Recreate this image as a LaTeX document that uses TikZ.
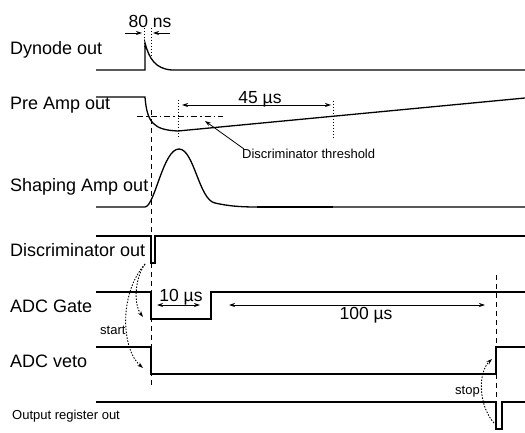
\documentclass[tikz,border=0pt]{standalone}
\usepackage{fontspec}
\setmainfont{Liberation Sans}
\usetikzlibrary{arrows.meta}
\begin{document}
\begin{tikzpicture}[x=1pt,y=-1pt,
  sig/.style={line width=1.3pt, line join=miter},
  biglabel/.style={anchor=base west, inner sep=0pt, font=\fontsize{18}{21}\selectfont},
  smalllabel/.style={anchor=base west, inner sep=0pt, font=\fontsize{13}{15}\selectfont},
  meas/.style={anchor=base, inner sep=0pt, font=\fontsize{17.5}{20}\selectfont},
  vdash/.style={line width=0.9pt, dash pattern=on 5pt off 4pt},
  vdot/.style={line width=0.9pt, dash pattern=on 1.5pt off 1.5pt},
  tip/.style={-{Stealth[length=6pt,width=4pt]}},
  dtip/.style={{Stealth[length=6pt,width=4pt]}-{Stealth[length=6pt,width=4pt]}},
  thin/.style={line width=0.8pt}
]
\useasboundingbox (0,0) rectangle (525,433);

% labels
\node[biglabel] (ldyn) at (10,55) {Dynode out};
\node[biglabel] (lpre) at (10,110) {Pre Amp out};
\node[biglabel] (lshp) at (10,191) {Shaping Amp out};
\node[biglabel] (ldis) at (10,256) {Discriminator out};
\node[biglabel] (lgate) at (10,312) {ADC Gate};
\node[biglabel] (lveto) at (10,367) {ADC veto};
\node[smalllabel] (lout) at (12,419) {Output register out};

% signals
\draw[sig] (96,70) -- (145,70) -- (145,43) .. controls (149,58) and (155,69) .. (172,70) -- (525,70);
\draw[sig] (96,97) -- (145,97) .. controls (147,122) and (153,130) .. (178,131) -- (525,98);
\draw[sig] (96,207) -- (145,207) .. controls (155,206) and (163,149) .. (179,149)
  .. controls (194,149) and (199,200) .. (215,203) .. controls (228,206) and (240,207) .. (257,207) -- (525,207);
\draw[line width=1.8pt] (257,207) -- (333,207);
\draw[sig] (96,236) -- (151,236) -- (151,263) -- (155,263) -- (155,236) -- (525,236);
\draw[sig] (96,292) -- (151,292) -- (151,319) -- (211,319) -- (211,292) -- (525,292);
\draw[sig] (96,347) -- (151,347) -- (151,374) -- (496,374) -- (496,347) -- (525,347);
\draw[sig] (96,402) -- (496,402) -- (496,429) -- (502,429) -- (502,402) -- (525,402);

% dashed verticals
\coordinate (d1a) at (151,110); \coordinate (d1b) at (151,386);
\coordinate (d2a) at (496,275); \coordinate (d2b) at (496,402);
\draw[vdash] (d1a) -- (d1b);
\draw[vdash] (d2a) -- (d2b);

% 80 ns
\node[meas] (t80) at (150,28) {80 ns};
\draw[vdot] (144,28) -- (144,47);
\draw[vdot] (151,28) -- (151,58);
\draw[thin,tip] (125,33) -- (142,33);
\draw[thin,tip] (170,33) -- (153,33);

% 45 us
\node[meas] (t45) at (260,104) {45 µs};
\draw[vdot] (178,100) -- (178,137);
\draw[vdot] (333,101) -- (333,140);
\draw[thin,dtip] (182,105) -- (331,105);

% threshold
\draw[thin, dash pattern=on 6pt off 3pt on 1.5pt off 3pt] (137,116) -- (223,116);
\node[smalllabel] (tthr) at (242,159) {Discriminator threshold};
\coordinate (thrpt) at (205,121);
\draw[thin,tip] (244,149) -- (thrpt);

% 10 us, 100 us
\node[meas] (t10) at (181,301) {10 µs};
\draw[thin,dtip] (157,305) -- (200,305);
\node[meas] (t100) at (366,319) {100 µs};
\draw[thin,dtip] (229,305) -- (485,305);

% start / stop
\node[smalllabel] (tstart) at (100,334) {start};
\node[smalllabel] (tstop) at (455,394) {stop};
\coordinate (s0) at (145,264);
\coordinate (s1) at (143,317);
\coordinate (s2) at (143,368);
\draw[vdot,tip] (s0) .. controls (134,280) and (134,305) .. (s1);
\draw[vdot,tip] (s0) .. controls (118,295) and (122,350) .. (s2);
\coordinate (p0) at (494,423);
\coordinate (p1) at (492,359);
\draw[vdot,tip] (p0) .. controls (478,405) and (478,372) .. (p1);
\end{tikzpicture}
\end{document}
